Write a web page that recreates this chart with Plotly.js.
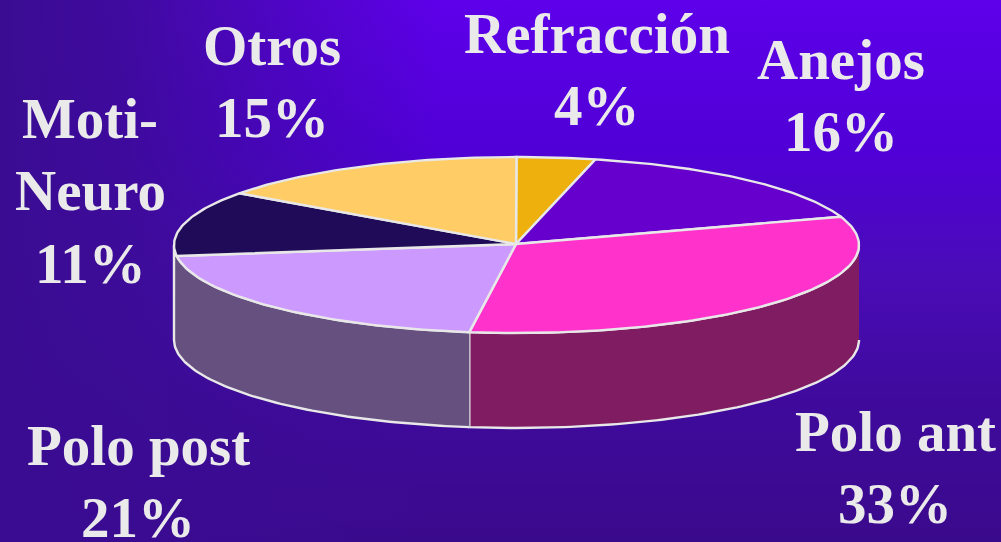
<!DOCTYPE html>
<html>
<head>
<meta charset="utf-8">
<script src="https://cdn.plot.ly/plotly-3.0.1.min.js"></script>
<style>
html,body{margin:0;padding:0;width:1001px;height:542px;overflow:hidden;}
body{background:
  linear-gradient(90deg,rgba(58,12,146,1) 0,rgba(58,12,146,.85) 120px,rgba(58,12,146,0) 440px),
  linear-gradient(180deg,#5e00ea 0,#5000d6 150px,#4a0cb8 270px,#3f0a9c 400px,#3a0a8c 542px);}
#chart{width:1001px;height:542px;}
</style>
</head>
<body>
<div id="chart"></div>
<script>
// Data
var categories = ["Refracción","Anejos","Polo ant","Polo post","Moti-<br>Neuro","Otros"];
var printedPercent = [4,16,33,21,11,15];          // the percentages as printed on the slide
var arcShare = [3.7,16.1,32.4,20.8,12,15];        // the share of the rim each slice occupies as drawn
var topColors = ["#eeb00d","#6600cc","#ff33cc","#cc99ff","#1f0b57","#ffcc66"];
var wallColors = ["#7f1c62","#66507f"];
// label centre x and the baseline y of each of its text lines
var labelCenters = [597,841,895,138,90,272];
var labelBaselines = [[54,126],[80,152],[452,524],[466,538],[139,211,284],[66,138]];

// Pie geometry in the picture's pixel scale
var cx=516.5, cy=245, rx=342.5, ry=88, depth=95;
var hub=[516,244];
var edge="#e8e8e8", textColor="#eaeaea", fontSize=57;

function pt(a,dy){ // a: degrees clockwise from 12 o'clock
  var r=a*Math.PI/180;
  return [cx+rx*Math.sin(r), cy-ry*Math.cos(r)+(dy||0)];
}
function arc(a0,a1,dy){
  var out=[], n=Math.max(2,Math.ceil(Math.abs(a1-a0)));
  for(var i=0;i<=n;i++) out.push(pt(a0+(a1-a0)*i/n,dy));
  return out;
}
function poly(points,color){
  return {type:"scatter",mode:"lines",fill:"toself",fillcolor:color,
    x:points.map(function(p){return p[0];}),
    y:points.map(function(p){return p[1];}),
    line:{color:edge,width:2.4},hoverinfo:"skip",showlegend:false};
}

var total=arcShare.reduce(function(a,b){return a+b;},0);
var starts=[], acc=0;
arcShare.forEach(function(v){starts.push(acc/total*360);acc+=v;});
function endOf(i){return starts[i]+arcShare[i]/total*360;}

var traces=[];
// Side walls: visible rim between 90 and 270 degrees
traces.push(poly(arc(90,endOf(2),0).concat(arc(endOf(2),90,depth)),wallColors[0]));
traces.push(poly(arc(starts[3],270,0).concat(arc(270,starts[3],depth)),wallColors[1]));
// Top slices
arcShare.forEach(function(v,i){
  traces.push(poly([hub].concat(arc(starts[i],endOf(i),0)).concat([hub]),topColors[i]));
});

var annotations=[];
categories.forEach(function(c,i){
  var lines=c.split("<br>").concat([printedPercent[i]+"%"]);
  lines.forEach(function(t,k){
    annotations.push({xref:"x",yref:"y",x:labelCenters[i],y:labelBaselines[i][k]-20.5,
      xanchor:"center",yanchor:"middle",showarrow:false,align:"center",text:t,
      font:{family:"'Liberation Serif',serif",size:fontSize,color:textColor,weight:700}});
  });
});

Plotly.newPlot("chart",traces,{
  width:1001,height:542,margin:{l:0,r:0,t:0,b:0},
  paper_bgcolor:"rgba(0,0,0,0)",plot_bgcolor:"rgba(0,0,0,0)",
  xaxis:{range:[0,1001],visible:false,fixedrange:true},
  yaxis:{range:[542,0],visible:false,fixedrange:true},
  showlegend:false,annotations:annotations,hovermode:false
},{displayModeBar:false,staticPlot:true});
</script>
</body>
</html>
